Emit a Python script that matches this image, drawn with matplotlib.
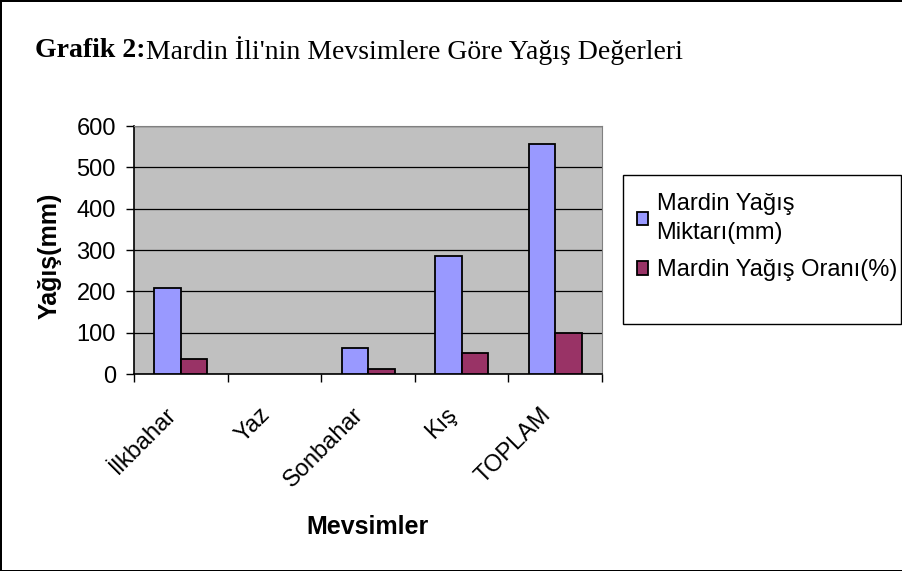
import numpy as np
import matplotlib.pyplot as plt
from matplotlib.patches import Rectangle
from matplotlib.transforms import ScaledTranslation

# Veriler
mevsimler = ["İlkbahar", "Yaz", "Sonbahar", "Kış", "TOPLAM"]
miktar_mm = [208, 0, 63, 286, 557]
oran_yuzde = [37.3, 0, 11.3, 51.3, 100]
seri_adlari = ["Mardin Yağış\nMiktarı(mm)", "Mardin Yağış Oranı(%)"]
y_ticks = [0, 100, 200, 300, 400, 500, 600]

plt.rcParams['font.family'] = ['Liberation Sans', 'DejaVu Sans']

fig = plt.figure(figsize=(9.03, 5.71), dpi=100, edgecolor='black', linewidth=2)
ax = fig.add_axes([0.1484, 0.345, 0.5183, 0.4343])

x = np.arange(len(mevsimler))
w = 0.283
b1 = ax.bar(x - w / 2, miktar_mm, w, color='#9999FF', edgecolor='black', linewidth=1.3, zorder=3)
b2 = ax.bar(x + w / 2, oran_yuzde, w, color='#993366', edgecolor='black', linewidth=1.3, zorder=3)
# sıfır değerli çubuklar görünmesin
for bars, vals in [(b1, miktar_mm), (b2, oran_yuzde)]:
    for p, v in zip(bars, vals):
        if v == 0:
            p.set_linewidth(0)

ax.set_facecolor('#C0C0C0')
ax.set_xlim(-0.5, len(mevsimler) - 0.5)
ax.set_ylim(0, 600)
ax.set_yticks(y_ticks)
ax.tick_params(axis='y', labelsize=17, length=6, width=1, direction='out', pad=7)
ax.yaxis.grid(True, color='black', linewidth=0.9, zorder=1)
ax.set_axisbelow(True)

# kategoriler arası çentikler
ax.set_xticks(x)
ax.set_xticklabels(mevsimler, rotation=45, ha='right', va='center',
                   rotation_mode='anchor', fontsize=17)
ax.tick_params(axis='x', length=0, pad=27)
kaydir = ScaledTranslation(-0.08, 0, fig.dpi_scale_trans)
for lbl in ax.get_xticklabels():
    lbl.set_transform(lbl.get_transform() + kaydir)
ax.set_xticks(np.arange(len(mevsimler) + 1) - 0.5, minor=True)
ax.tick_params(axis='x', which='minor', length=6, width=1, direction='out')

for s in ['top', 'right']:
    ax.spines[s].set_color('#808080')
for s in ['left', 'bottom']:
    ax.spines[s].set_color('black')
    ax.spines[s].set_linewidth(1.2)

ax.set_ylabel("Yağış(mm)", fontsize=18, fontweight='bold')
ax.yaxis.set_label_coords(-0.155, 0.476)
fig.text(368 / 903, 0.077, "Mevsimler", fontsize=18, fontweight='bold', ha='center', va='center')

# başlık
t1 = fig.text(0.0388, 0.912, "Grafik 2:", fontsize=20, fontweight='bold',
              family='Liberation Serif', va='center')
fig.canvas.draw()
bb = t1.get_window_extent()
fig.text(bb.x1 / fig.bbox.width, 0.912, "Mardin İli'nin Mevsimlere Göre Yağış Değerleri",
         fontsize=20, family='Liberation Serif', va='center')

# lejant kutusu
fig.patches.append(Rectangle((0.690, 0.4326), 0.308, 0.261, transform=fig.transFigure,
                             fill=False, edgecolor='black', linewidth=1))
leg = fig.legend([b1, b2], seri_adlari, loc='upper left', bbox_to_anchor=(0.684, 0.695),
                 frameon=False, fontsize=17, handlelength=0.5, handleheight=0.5,
                 handletextpad=0.35, labelspacing=0.65, borderpad=0.3)
for t in leg.get_texts():
    t.set_linespacing(1.4)

plt.savefig("out.png", dpi=100)
